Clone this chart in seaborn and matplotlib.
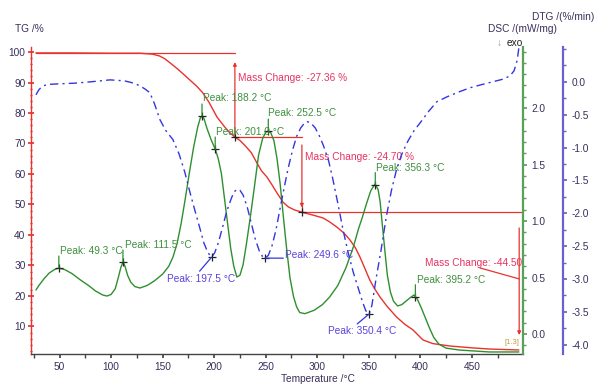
import seaborn as sns
import matplotlib.pyplot as plt
import numpy as np
import pandas as pd
from matplotlib.ticker import MultipleLocator

# TG curve (%)
tg_temp = [27, 60, 100, 128, 140, 147, 152, 157, 165, 176.5, 183, 189, 195, 202.7, 210, 215,
           220.1, 225, 230, 236, 241.5, 246, 251.2, 256, 260.9, 266.7, 272, 278, 285.1, 295,
           305.5, 312, 319, 326, 331.7, 337, 341.4, 346, 351, 356, 360.8, 368, 377, 385,
           392.8, 402.5, 412, 428.7, 450, 467.5, 495.6]
tg_val = [99.7, 99.7, 99.6, 99.6, 99.3, 98.7, 97.8, 96.5, 94.3, 90.8, 88.8, 86.6, 83.5, 78.7,
          75.5, 73.6, 72.1, 71.0, 69.3, 67.0, 63.6, 61.0, 59.0, 56.5, 53.8, 50.8, 49.2, 48.2,
          47.5, 46.6, 45.6, 44.3, 42.6, 40.6, 38.4, 35.8, 32.8, 29.2, 25.2, 22.2, 19.7, 16.5,
          13.1, 10.7, 8.9, 5.6, 4.4, 3.6, 3.0, 2.6, 2.3]

# DSC curve (mW/mg)
dsc_temp = [27.1, 30, 35, 40, 45, 49.3, 55, 62, 70, 78, 85, 92, 96, 100, 104, 107, 109.5,
            111.5, 113.5, 116, 119, 123, 128, 135, 142, 150, 156, 160, 164, 168, 172, 176,
            180, 184, 186.5, 188.2, 190, 193, 197, 201, 204, 207, 210, 213, 216, 219, 222,
            225, 228, 231, 235, 239, 243, 247, 250, 252.5, 255, 258, 261, 264, 267, 270,
            273.5, 277, 280, 283, 288, 297, 305, 312, 320, 328, 335, 340, 344, 348, 352,
            356, 359, 361, 363.5, 366, 368, 371, 374, 378, 382, 386, 390, 393.8, 397, 401,
            405, 409, 413, 418, 425, 438, 467, 495.6]
dsc_val = [0.389, 0.43, 0.49, 0.54, 0.57, 0.584, 0.57, 0.535, 0.48, 0.43, 0.38, 0.345, 0.336,
           0.35, 0.40, 0.50, 0.59, 0.637, 0.60, 0.52, 0.46, 0.42, 0.407, 0.43, 0.47, 0.53,
           0.60, 0.68, 0.80, 0.98, 1.2, 1.43, 1.65, 1.83, 1.91, 1.929, 1.91, 1.82, 1.72,
           1.637, 1.55, 1.42, 1.2, 0.98, 0.76, 0.6, 0.504, 0.52, 0.611, 0.78, 1.03, 1.3,
           1.58, 1.73, 1.785, 1.796, 1.78, 1.71, 1.55, 1.33, 1.05, 0.78, 0.50, 0.33, 0.24,
           0.19, 0.18, 0.21, 0.26, 0.327, 0.43, 0.59, 0.77, 0.93, 1.04, 1.16, 1.27, 1.327,
           1.28, 1.17, 0.93, 0.70, 0.52, 0.37, 0.29, 0.248, 0.26, 0.29, 0.32, 0.345, 0.31,
           0.23, 0.14, 0.05, -0.03, -0.09, -0.125, -0.142, -0.159, -0.159]

# DTG curve (%/min)
dtg_temp = [27.1, 30, 33, 38, 50, 65, 80, 99, 113, 122, 128, 133, 137.7, 142, 147.4, 153, 160,
            166, 171.6, 176, 181, 186, 190, 194, 197.5, 200.5, 204, 208, 212, 216, 219, 222,
            225, 228, 232, 236, 240, 244, 247, 249.6, 252.5, 256, 260, 264, 268, 272, 276,
            280, 284, 288, 290.5, 294, 298, 302, 306, 311, 315, 320, 325, 330, 335, 340, 344,
            347, 350.4, 353, 357, 362, 367, 372, 377, 382, 388, 394, 400, 408, 416, 426, 438,
            448, 460, 470, 480, 487, 491, 494, 495.6]
dtg_val = [-0.197, -0.12, -0.07, -0.04, -0.03, -0.02, 0.0, 0.03, 0.015, -0.02, -0.061, -0.11,
           -0.167, -0.33, -0.576, -0.74, -0.879, -1.1, -1.379, -1.65, -1.94, -2.22, -2.45,
           -2.6, -2.667, -2.6, -2.45, -2.22, -1.98, -1.8, -1.68, -1.636, -1.65, -1.72, -1.9,
           -2.15, -2.4, -2.58, -2.66, -2.682, -2.64, -2.5, -2.25, -1.92, -1.6, -1.3, -1.04,
           -0.83, -0.7, -0.62, -0.606, -0.63, -0.7, -0.82, -0.97, -1.2, -1.47, -1.85, -2.25,
           -2.6, -2.9, -3.15, -3.35, -3.48, -3.53, -3.4, -3.0, -2.55, -2.05, -1.65, -1.33,
           -1.1, -0.9, -0.74, -0.62, -0.45, -0.303, -0.227, -0.15, -0.091, -0.04, 0.0, 0.04,
           0.09, 0.17, 0.33, 0.52]

# peak labels
dsc_peaks = [49.3, 111.5, 188.2, 201.0, 252.5, 356.3, 395.2]
dtg_peaks = [197.5, 249.6, 350.4]
mass_steps = [220.1, 285.1]
mass_labels = ["Mass Change: -27.36 %", "Mass Change: -24.70 %", "Mass Change: -44.50"]

sns.set_theme(style="white")
plt.rcParams['font.family'] = ["Liberation Sans", "DejaVu Sans"]
plt.rcParams['font.size'] = 7.3

FS = 7.3
RED = "#e8322e"
RED_TXT = "#e63462"
GREEN = "#2f8f2f"
GREEN_TXT = "#3f8f3f"
BLUE = "#3535e0"
BLUE_TXT = "#5a44d8"
TICK = "#3b2e5a"

fig = plt.figure(figsize=(6, 3.87), dpi=100)
ax = fig.add_axes([31/600, 33/387, 492/600, 307/387])
ax2 = ax.twinx()
ax3 = ax.twinx()

df_tg = pd.DataFrame({"T": tg_temp, "v": tg_val})
df_dsc = pd.DataFrame({"T": dsc_temp, "v": dsc_val})
df_dtg = pd.DataFrame({"T": dtg_temp, "v": dtg_val})

sns.lineplot(data=df_tg, x="T", y="v", ax=ax, color=RED, lw=1.0)
sns.lineplot(data=df_dsc, x="T", y="v", ax=ax2, color=GREEN, lw=1.0)
sns.lineplot(data=df_dtg, x="T", y="v", ax=ax3, color=BLUE, lw=1.0)
ax3.lines[0].set_linestyle((0, (6, 3, 1.5, 3)))

ax.set_xlim(22.3, 499.6)
ax.set_ylim(0.98, 101.64)
ax2.set_ylim(-0.177, 2.54)
ax3.set_ylim(-4.14, 0.53)

for a in (ax, ax2, ax3):
    a.set_xlabel("")
    a.set_ylabel("")
    a.spines['top'].set_visible(False)

ax.set_xticks(np.arange(50, 451, 50))
ax.xaxis.set_minor_locator(MultipleLocator(25))
ax.set_yticks(np.arange(10, 101, 10))
ax.yaxis.set_minor_locator(MultipleLocator(2))
ax2.set_yticks(np.arange(0, 2.01, 0.5))
ax2.yaxis.set_minor_locator(MultipleLocator(0.1))
ax3.set_yticks(np.arange(-4, 0.01, 0.5))
ax3.yaxis.set_minor_locator(MultipleLocator(0.25))
ax2.set_yticklabels([f"{t:.1f}" for t in np.arange(0, 2.01, 0.5)])
ax3.set_yticklabels([f"{t:.1f}" for t in np.arange(-4, 0.01, 0.5)])

ax.spines['left'].set_color(RED)
ax.spines['left'].set_linewidth(1.0)
ax.spines['bottom'].set_color("#444444")
ax.spines['bottom'].set_linewidth(1.0)
ax.spines['right'].set_visible(False)
ax2.spines['left'].set_visible(False)
ax2.spines['bottom'].set_visible(False)
ax2.spines['right'].set_color("#5aa05a")
ax2.spines['right'].set_linewidth(1.6)
ax3.spines['left'].set_visible(False)
ax3.spines['bottom'].set_visible(False)
ax3.spines['right'].set_position(('outward', 28.8))
ax3.spines['right'].set_color("#6a60d0")
ax3.spines['right'].set_linewidth(1.6)

ax.tick_params(axis='y', which='both', direction='inout', colors=RED, labelcolor=TICK,
               left=True, length=4, pad=2, labelsize=FS)
ax.tick_params(axis='y', which='minor', length=2)
ax.tick_params(axis='x', which='both', direction='out', colors="#444444", labelcolor=TICK,
               bottom=True, length=3, pad=3, labelsize=FS)
ax2.tick_params(axis='y', which='both', direction='out', colors="#5aa05a", labelcolor=TICK,
                right=True, length=3, pad=3, labelsize=FS)
ax2.tick_params(axis='y', which='minor', length=2)
ax3.tick_params(axis='y', which='both', direction='out', colors="#6a60d0", labelcolor=TICK,
                right=True, length=3, pad=3, labelsize=FS)
ax3.tick_params(axis='y', which='minor', length=2)

# axis titles
fig.text(15/600, 1 - 29/387, "TG /%", color=TICK, va='center', ha='left', fontsize=FS)
fig.text(488/600, 1 - 29/387, "DSC /(mW/mg)", color=TICK, va='center', ha='left', fontsize=FS)
fig.text(532/600, 1 - 17/387, "DTG /(%/min)", color=TICK, va='center', ha='left', fontsize=FS)
fig.text(497/600, 1 - 43/387, "\u2193", color="#8a9a8a", va='center', ha='left', fontsize=7)
fig.text(507/600, 1 - 43/387, "exo", color="#222222", va='center', ha='left', fontsize=FS)
fig.text(318/600, 1 - 379/387, "Temperature /\u00b0C", color=TICK, va='center', ha='center',
         fontsize=FS)

# DSC peaks
dsc_off = [(1, 17), (2, 17), (1, 18), (1, 17), (0, 18), (1, 17), (2, 17)]
for t, (dx, dy) in zip(dsc_peaks, dsc_off):
    v = np.interp(t, dsc_temp, dsc_val)
    ax2.annotate("", xy=(t, v), xytext=(0, 12), textcoords='offset pixels',
                 arrowprops=dict(arrowstyle='-', color=GREEN, lw=0.9, shrinkA=0, shrinkB=0))
    ax2.plot([t], [v], marker='+', color="#222222", ms=6, mew=0.9)
    ax2.annotate(f"Peak: {t:.1f} \u00b0C", xy=(t, v), xytext=(dx, dy),
                 textcoords='offset pixels', color=GREEN_TXT, ha='left', va='center')

# DTG peaks
dtg_off = [(-45, -22), (20, 3), (-41, -17)]
dtg_lead = [(-12, -14), (18, 0), (-12, -10)]
for t, (dx, dy), (lx, ly) in zip(dtg_peaks, dtg_off, dtg_lead):
    v = np.interp(t, dtg_temp, dtg_val)
    ax3.annotate("", xy=(t, v), xytext=(lx, ly), textcoords='offset pixels',
                 arrowprops=dict(arrowstyle='-', color=BLUE, lw=0.9, shrinkA=0, shrinkB=0))
    ax3.plot([t], [v], marker='+', color="#222222", ms=6, mew=0.9)
    ax3.annotate(f"Peak: {t:.1f} \u00b0C", xy=(t, v), xytext=(dx, dy),
                 textcoords='offset pixels', color=BLUE_TXT, ha='left', va='center')

# mass change steps
m1 = np.interp(mass_steps[0], tg_temp, tg_val)
m2 = np.interp(mass_steps[1], tg_temp, tg_val)
ax.plot([27, mass_steps[0]], [99.7, 99.7], color=RED, lw=0.9)
ax.plot([mass_steps[0], mass_steps[1]], [m1, m1], color=RED, lw=0.9)
ax.plot([mass_steps[1], 499.6], [m2, m2], color=RED, lw=0.9)
ax.annotate("", xy=(mass_steps[0], 96.7), xytext=(mass_steps[0], m1),
            arrowprops=dict(arrowstyle='-|>', color=RED, lw=0.9, mutation_scale=5,
                            shrinkA=0, shrinkB=0))
ax.annotate("", xy=(mass_steps[1], m2 + 1.5), xytext=(mass_steps[1], 69.5),
            arrowprops=dict(arrowstyle='-|>', color=RED, lw=0.9, mutation_scale=5,
                            shrinkA=0, shrinkB=0))
ax.plot([mass_steps[1], mass_steps[1]], [m2 + 2, m2], color=RED, lw=0.9)
ax.annotate("", xy=(495.9, 7.2), xytext=(495.9, 42.3),
            arrowprops=dict(arrowstyle='-|>', color=RED, lw=0.9, mutation_scale=5,
                            shrinkA=0, shrinkB=0))
ax.plot([457.8, 495.9], [29.2, 25.6], color=RED, lw=0.9)
for t, m in zip(mass_steps, [m1, m2]):
    ax.plot([t], [m], marker='+', color="#222222", ms=6, mew=0.9, zorder=5)

ax.text(223.2, 91.5, mass_labels[0], color=RED_TXT, va='center', ha='left')
ax.text(288, 65.6, mass_labels[1], color=RED_TXT, va='center', ha='left')
ax.text(404.5, 30.8, mass_labels[2], color=RED_TXT, va='center', ha='left')
ax.text(496, 4.8, "[1.3]", color="#c89a40", va='center', ha='right', fontsize=5.5)

fig.savefig("out.png", dpi=100)
